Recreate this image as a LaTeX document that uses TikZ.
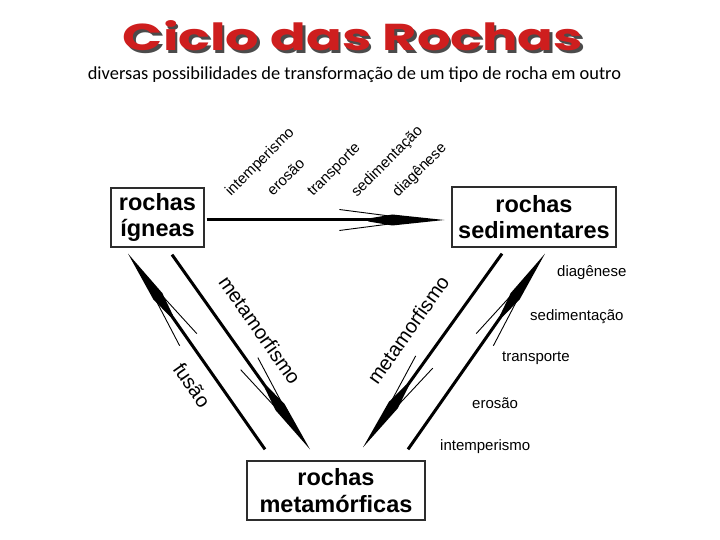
\documentclass[tikz,border=0pt]{standalone}
\usepackage{fontspec}
\setmainfont{Liberation Sans}
\newfontfamily\titlefont{Poppins}
\newfontfamily\subfont{Carlito}
\usetikzlibrary{calc, decorations.markings}

\definecolor{titlered}{RGB}{206,30,30}
\definecolor{titleshadow}{RGB}{75,75,75}
\definecolor{boxline}{RGB}{45,45,45}

% shaft plus long barbed head
\newcommand{\rockarrow}[2]{%
  \draw[shaft] #1 -- #2;
  \path[rockhead] #1 -- #2;}

\begin{document}
\begin{tikzpicture}[x=1pt, y=1pt,
  rockbox/.style={draw=boxline, line width=1.3pt, inner sep=0pt, align=center, font=\bfseries\fontsize{23.5}{26.5}\selectfont},
  toplabel/.style={rotate=45, anchor=base west, inner sep=0pt, font=\fontsize{15}{18}\selectfont},
  sidelabel/.style={anchor=west, inner sep=0pt, font=\fontsize{15}{18}\selectfont},
  biglabel/.style={inner sep=0pt, font=\fontsize{20}{24}\selectfont},
  shaft/.style={line width=3pt, shorten >=70pt},
  rockhead/.style={decorate, decoration={markings, mark=at position 1 with {
    \fill (0pt,0pt) -- (-52pt,5.5pt) -- (-76pt,1.5pt) -- (-76pt,-1.5pt) -- (-52pt,-5.5pt) -- cycle;
    \draw[line width=0.9pt] (-105pt,10.5pt) -- (-55pt,4pt);
    \draw[line width=0.9pt] (-105pt,-10.5pt) -- (-55pt,-4pt);}}}]
  \useasboundingbox (0,0) rectangle (720,540);

  % title
  \node[text=titleshadow] (titleshadow) at (355.5,501.5) {\resizebox{460pt}{30pt}{\titlefont\bfseries Ciclo das Rochas}};
  \node[text=titlered] (title) at (353,504.5) {\resizebox{460pt}{30pt}{\titlefont\bfseries Ciclo das Rochas}};
  \node[font=\subfont\fontsize{18.4}{21}\selectfont] (subtitle) at (354.5,465) {diversas possibilidades de transformação de um tipo de rocha em outro};

  % rock types
  \node[rockbox, minimum width=93pt, minimum height=59pt] (ign) at (157.5,322.5) {rochas\\ígneas};
  \node[rockbox, minimum width=164pt, minimum height=60pt] (sed) at (534,323) {rochas\\sedimentares};
  \node[rockbox, minimum width=178pt, minimum height=59pt] (met) at (336,49.5) {rochas\\metamórficas};

  % transformations
  \rockarrow{($(ign.east)+(2,-2.5)$)}{($(sed.west)+(-7,-3)$)}
  \rockarrow{($(met.north)+(-71,11)$)}{($(ign.south)+(-29.5,-6)$)}
  \rockarrow{($(ign.south)+(14.5,-7)$)}{($(met.north)+(-26,11)$)}
  \rockarrow{($(sed.south)+(-32,-6)$)}{($(met.north)+(27,13)$)}
  \rockarrow{($(met.north)+(72,11)$)}{($(sed.south)+(11,-6)$)}

  % labels along ign -> sed
  \node[toplabel] (tint) at (231,343) {intemperismo};
  \node[toplabel] (tero) at (273,343) {erosão};
  \node[toplabel] (ttra) at (313,343) {transporte};
  \node[toplabel] (tsed) at (357,342) {sedimentação};
  \node[toplabel] (tdia) at (398,342) {diagênese};

  % labels along met -> sed
  \node[sidelabel] (sdia) at (557,267) {diagênese};
  \node[sidelabel] (ssed) at (530,223) {sedimentação};
  \node[sidelabel] (stra) at (502,182) {transporte};
  \node[sidelabel] (sero) at (472,137) {erosão};
  \node[sidelabel] (sint) at (440,93) {intemperismo};

  % diagonal labels
  \node[biglabel, rotate=-55] (fus) at (192,155) {fusão};
  \node[biglabel, rotate=-55] (metaL) at (260,210) {metamorfismo};
  \node[biglabel, rotate=55] (metaR) at (408,210) {metamorfismo};
\end{tikzpicture}
\end{document}
